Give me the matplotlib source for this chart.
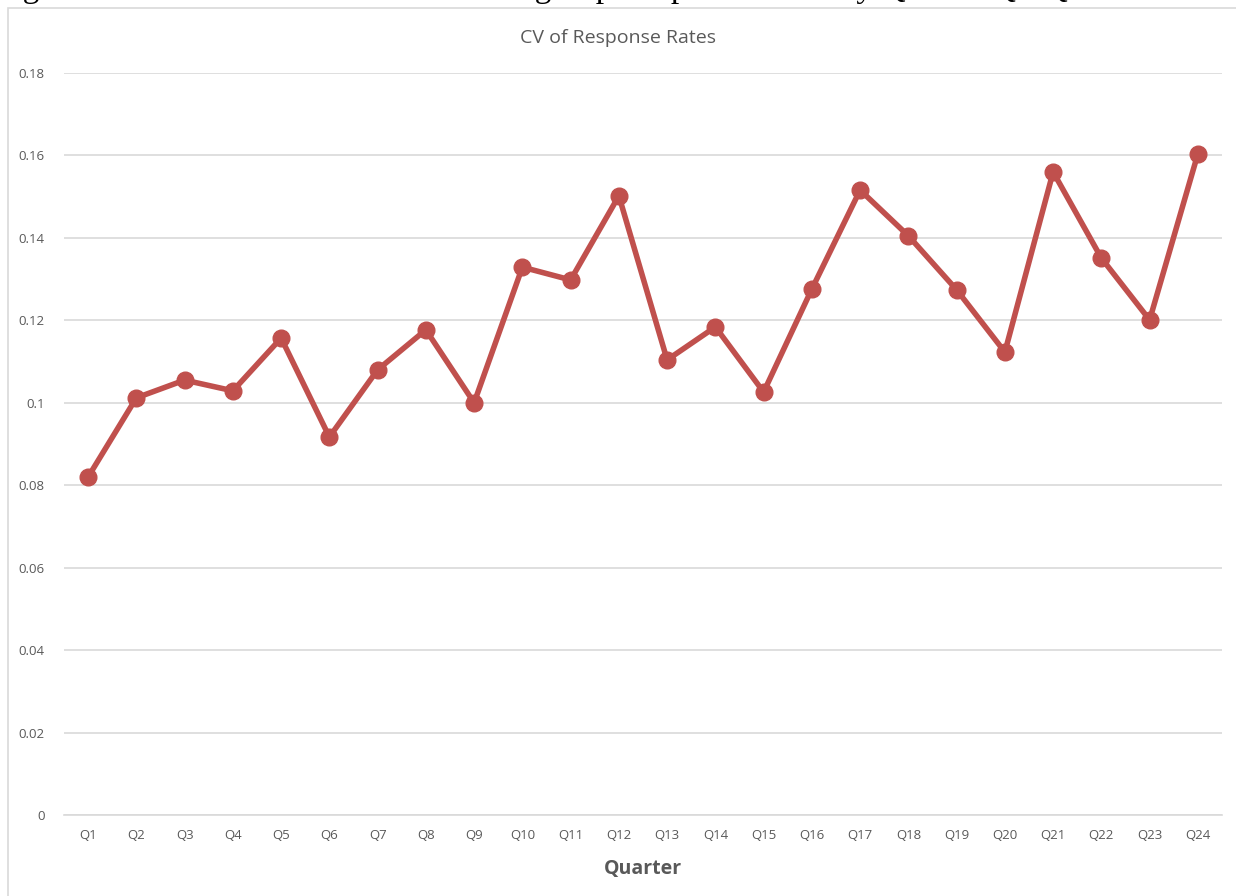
import matplotlib.pyplot as plt
from matplotlib.patches import Rectangle

quarters = ['Q' + str(i) for i in range(1, 25)]
cv = [0.0820, 0.1012, 0.1055, 0.1029, 0.1157, 0.0917, 0.1080, 0.1177,
      0.1000, 0.1329, 0.1298, 0.1502, 0.1104, 0.1184, 0.1026, 0.1276,
      0.1516, 0.1405, 0.1274, 0.1123, 0.1560, 0.1351, 0.1201, 0.1604]
yticks = [0, 0.02, 0.04, 0.06, 0.08, 0.1, 0.12, 0.14, 0.16, 0.18]
ylabels = ['0', '0.02', '0.04', '0.06', '0.08', '0.1', '0.12', '0.14', '0.16', '0.18']

grey = '#595959'
plt.rcParams['font.family'] = ['Open Sans', 'DejaVu Sans']

fig = plt.figure(figsize=(12.36, 8.96), dpi=100)
ax = fig.add_axes([64/1236, 1-815/896, (1222-64)/1236, (815-73)/896])

# chart frame, cut by the page edge
fig.patches.append(Rectangle((8/1236, -0.1), 1.2, 1 - 8/896 + 0.1, transform=fig.transFigure,
                             fill=False, edgecolor='#d9d9d9', linewidth=1.2, zorder=0))

# caption above the chart (only its lower edge shows on the page)
fig.text(-0.004, 1 + 3/896, 'Figure 3: Coefficient of Variation in Subgroup Response Rates by Quarter Q1-Q24',
         family='Liberation Serif', fontsize=24, color='black', va='baseline', ha='left')

x = list(range(len(quarters)))
ax.plot(x, cv, color='#C0504D', linewidth=4, marker='o', markersize=12, zorder=3)

ax.set_xlim(-0.5, 23.5)
ax.set_ylim(0, 0.18)
ax.set_yticks(yticks)
ax.set_yticklabels(ylabels)
ax.set_xticks(x)
ax.set_xticklabels(quarters)
ax.grid(axis='y', color='#d9d9d9', linewidth=1.2)
ax.set_axisbelow(True)
for s in ax.spines.values():
    s.set_visible(False)
ax.spines['bottom'].set_visible(True)
ax.spines['bottom'].set_color('#d9d9d9')
ax.spines['bottom'].set_linewidth(1.2)
ax.tick_params(axis='both', length=0, colors=grey, labelsize=9.5)
ax.tick_params(axis='y', pad=14)
ax.tick_params(axis='x', pad=10)

ax.set_xlabel('Quarter', fontsize=14, fontweight='bold', color=grey, labelpad=12)
fig.text(0.5, 1 - 38/896, 'CV of Response Rates', ha='center', va='center', fontsize=14, color=grey)

fig.savefig('out.png', dpi=100)
